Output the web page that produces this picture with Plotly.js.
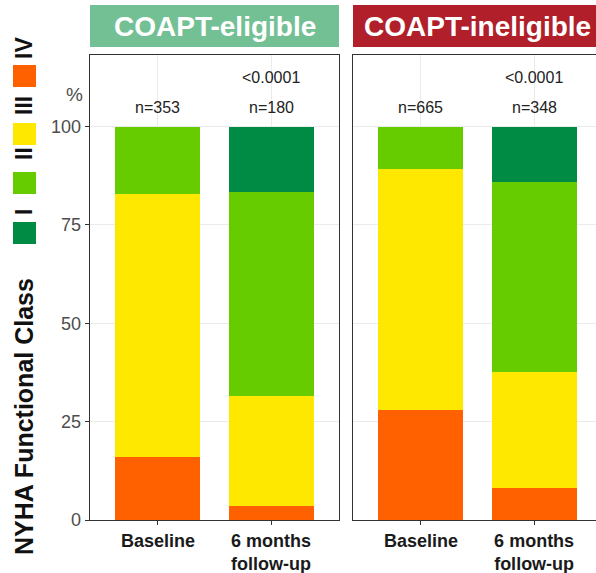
<!DOCTYPE html>
<html>
<head>
<meta charset="utf-8">
<script src="https://cdn.plot.ly/plotly-3.0.1.min.js"></script>
<style>html,body{margin:0;padding:0;background:#fff;}#chart{width:596px;height:573px;}</style>
</head>
<body>
<div id="chart"></div>
<script>
// ---- data ----
const categories = ['Baseline', '6 months<br>follow-up'];
const classNames = ['IV', 'III', 'II', 'I'];
const classColors = ['#FF6000', '#FFE800', '#66CC00', '#008B45'];
// COAPT-eligible (% per NYHA class)
const eligibleIV  = [15.9, 3.6];
const eligibleIII = [66.9, 27.8];
const eligibleII  = [17.2, 51.9];
const eligibleI   = [0.0, 16.7];
// COAPT-ineligible
const ineligibleIV  = [28.0, 8.1];
const ineligibleIII = [61.1, 29.5];
const ineligibleII  = [10.9, 48.4];
const ineligibleI   = [0.0, 14.0];
const eligibleN   = ['n=353', 'n=180'];
const ineligibleN = ['n=665', 'n=348'];
const pValues = ['', '<0.0001'];
const panelTitles = ['COAPT-eligible', 'COAPT-ineligible'];
const yTicks = [0, 25, 50, 75, 100];

// ---- helpers ----
const W = 596, H = 573;
const px = x => x / W;
const py = y => 1 - y / H;
const FONT = 'Liberation Sans, Arial, sans-serif';

const eligibleSets = [eligibleIV, eligibleIII, eligibleII, eligibleI];
const ineligibleSets = [ineligibleIV, ineligibleIII, ineligibleII, ineligibleI];

const traces = [];
eligibleSets.forEach((vals, i) => {
  traces.push({type: 'bar', x: categories, y: vals, name: classNames[i], xaxis: 'x', yaxis: 'y',
    marker: {color: classColors[i], line: {width: 0}}, showlegend: false, hoverinfo: 'y'});
});
ineligibleSets.forEach((vals, i) => {
  traces.push({type: 'bar', x: categories, y: vals, name: classNames[i], xaxis: 'x2', yaxis: 'y2',
    marker: {color: classColors[i], line: {width: 0}}, showlegend: false, hoverinfo: 'y'});
});

const yTop = 118.2;
const common = {
  showgrid: true, gridcolor: '#ebebeb', gridwidth: 1, zeroline: false,
  showline: true, linecolor: '#333333', linewidth: 1.3
};
const xCommon = Object.assign({}, common, {
  type: 'category', ticks: 'outside', ticklen: 4, tickcolor: '#333333',
  tickfont: {family: FONT, size: 18, color: '#1a1a1a', weight: 'bold'}
});

const layout = {
  width: W, height: H,
  margin: {l: 0, r: 0, t: 0, b: 0},
  paper_bgcolor: '#ffffff', plot_bgcolor: '#ffffff',
  barmode: 'stack', bargap: 0.25,
  font: {family: FONT},
  xaxis: Object.assign({}, xCommon, {domain: [px(90), px(339)], range: [-0.6, 1.6], mirror: true, anchor: 'y'}),
  xaxis2: Object.assign({}, xCommon, {domain: [px(353), 1], range: [-0.6, -0.6 + (596 - 353) / 113.2], mirror: true, anchor: 'y2'}),
  yaxis: Object.assign({}, common, {domain: [py(520), py(55)], range: [0, yTop], tickvals: yTicks,
    ticks: 'outside', ticklen: 4, tickcolor: '#333333', mirror: true, anchor: 'x',
    tickfont: {family: FONT, size: 18, color: '#4d4d4d'}}),
  yaxis2: Object.assign({}, common, {domain: [py(520), py(55)], range: [0, yTop], tickvals: yTicks,
    ticks: '', showticklabels: false, mirror: false, anchor: 'x2'}),
  shapes: [],
  annotations: []
};

// strip headers
const strips = [[90, 339, '#74C095'], [353, 602, '#B01F2A']];
strips.forEach((s, i) => {
  layout.shapes.push({type: 'rect', xref: 'paper', yref: 'paper', x0: px(s[0]), x1: px(s[1]), y0: py(47), y1: py(5),
    fillcolor: s[2], line: {width: 0}});
  layout.annotations.push({xref: 'paper', yref: 'paper', x: px((s[0] + s[1]) / 2), y: py(26), text: panelTitles[i],
    showarrow: false, xanchor: 'center', yanchor: 'middle', font: {family: FONT, size: 28, color: '#ffffff', weight: 'bold'}});
});

// n labels and p values
[[eligibleN, 'x', 'y'], [ineligibleN, 'x2', 'y2']].forEach(([nArr, xr, yr]) => {
  categories.forEach((c, j) => {
    layout.annotations.push({xref: xr, yref: yr, x: c, y: 104.8, text: nArr[j], showarrow: false,
      xanchor: 'center', yanchor: 'middle', font: {family: FONT, size: 16, color: '#222222'}});
    if (pValues[j]) layout.annotations.push({xref: xr, yref: yr, x: c, y: 112.4, text: pValues[j], showarrow: false,
      xanchor: 'center', yanchor: 'middle', font: {family: FONT, size: 16, color: '#222222'}});
  });
});

// % label
layout.annotations.push({xref: 'paper', yref: 'paper', x: px(74), y: py(95), text: '%', showarrow: false,
  xanchor: 'center', yanchor: 'middle', font: {family: FONT, size: 19, color: '#4d4d4d'}});

// y title
layout.annotations.push({xref: 'paper', yref: 'paper', x: px(24), y: py(417), text: 'NYHA Functional Class', textangle: -90,
  showarrow: false, xanchor: 'center', yanchor: 'middle', font: {family: FONT, size: 25, color: '#111111', weight: 'bold'}});

// manual legend (top: IV ... bottom: I)
const legendBoxes = [[65, 87], [123, 145], [172, 194], [222, 244]];
const legendLabelY = [48, 106, 154, 212];
classNames.forEach((nm, i) => {
  layout.shapes.push({type: 'rect', xref: 'paper', yref: 'paper', x0: px(13), x1: px(36),
    y0: py(legendBoxes[i][1]), y1: py(legendBoxes[i][0]), fillcolor: classColors[i], line: {width: 0}});
  layout.annotations.push({xref: 'paper', yref: 'paper', x: px(24), y: py(legendLabelY[i]), text: nm, textangle: -90,
    showarrow: false, xanchor: 'center', yanchor: 'middle', font: {family: FONT, size: 23, color: '#111111', weight: 'bold'}});
});

Plotly.newPlot('chart', traces, layout, {displayModeBar: false, staticPlot: true});
</script>
</body>
</html>
